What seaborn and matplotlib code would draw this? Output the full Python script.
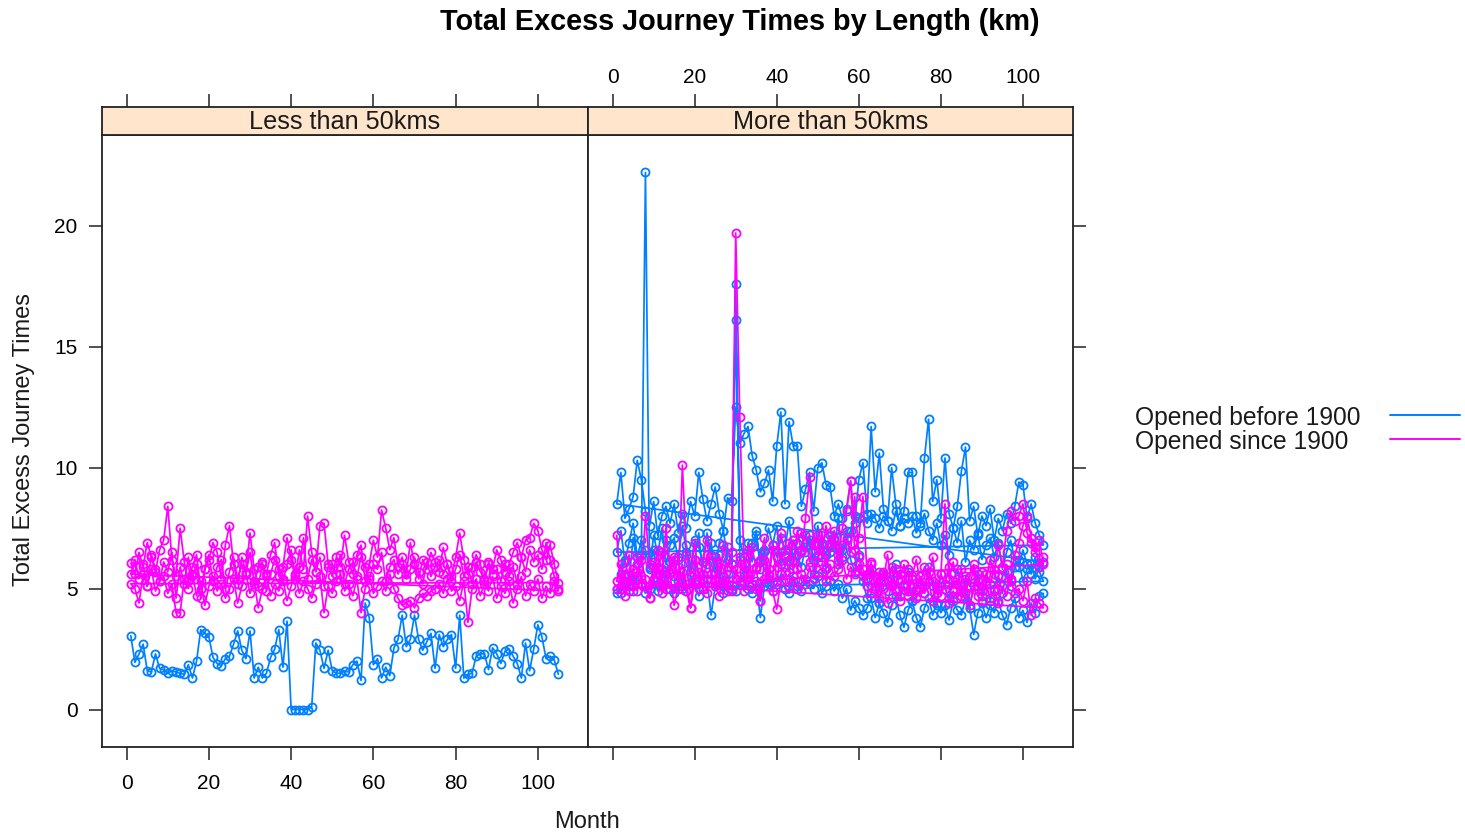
import matplotlib
matplotlib.use("Agg")
import matplotlib.pyplot as plt
from matplotlib.lines import Line2D
import pandas as pd
import seaborn as sns

sns.set_theme(style="white")
plt.rcParams["font.family"] = ["Liberation Sans", "DejaVu Sans"]
plt.rcParams["text.color"] = "black"

# ---------------------------------------------------------------- data
months = list(range(1, 106))
panels = ["Less than 50kms", "More than 50kms"]
groups = ["Opened before 1900", "Opened since 1900"]
group_colors = ["#0080ff", "#ff00ff"]

# Routes shorter than 50 km, opened before 1900
short_before_1 = [
    3.05, 1.95, 2.3, 2.7, 1.6, 1.55, 2.3, 1.7, 1.65, 1.5, 1.6, 1.55, 1.5, 1.45, 1.85,
    1.3, 2.0, 3.3, 3.15, 3.0, 2.15, 1.9, 1.8, 2.1, 2.2, 2.7, 3.25, 2.45, 2.1, 3.25,
    1.3, 1.75, 1.3, 1.5, 2.15, 2.5, 3.3, 1.75, 3.65, 0.0, 0.0, 0.0, 0.0, 0.0, 0.1,
    2.75, 2.45, 1.7, 2.45, 1.6, 1.5, 1.5, 1.6, 1.55, 1.85, 2.0, 1.2, 4.4, 3.8, 1.85,
    2.1, 1.3, 1.75, 1.4, 2.55, 2.9, 3.9, 2.6, 2.9, 3.9, 2.9, 2.45, 2.8, 3.15, 1.7,
    3.1, 2.6, 2.9, 3.1, 1.7, 3.9, 1.3, 1.45, 1.5, 2.2, 2.3, 2.3, 1.65, 2.55, 2.3,
    1.9, 2.4, 2.5, 2.2, 1.9, 1.3, 2.75, 1.6, 2.5, 3.5, 3.0, 2.1, 2.2, 2.05, 1.45,
]

# Routes shorter than 50 km, opened since 1900
short_since_1 = [
    6.05, 5.6, 6.5, 5.9, 6.9, 6.3, 5.7, 6.6, 7.0, 8.4, 6.2, 5.5, 7.5, 6.1, 5.3,
    5.9, 6.4, 5.0, 5.8, 6.2, 6.9, 6.5, 5.4, 6.8, 7.6, 6.0, 5.2, 6.3, 5.7, 7.3,
    5.8, 5.1, 6.0, 5.6, 6.4, 6.9, 5.5, 5.9, 7.1, 6.2, 5.4, 6.6, 5.8, 8.0, 6.5,
    5.7, 7.6, 7.7, 6.0, 5.5, 6.3, 5.9, 7.2, 6.1, 5.6, 6.4, 6.8, 5.3, 6.0, 7.0,
    6.3, 8.25, 7.5, 6.6, 7.1, 5.9, 6.3, 5.6, 6.9, 6.0, 5.4, 6.2, 5.8, 6.5, 6.1,
    5.7, 6.7, 6.0, 5.5, 6.3, 7.3, 6.2, 5.6, 5.9, 6.4, 6.0, 5.3, 6.1, 5.8, 6.6,
    6.2, 5.7, 6.0, 6.5, 6.9, 6.3, 7.0, 7.1, 7.7, 7.4, 6.6, 6.2, 6.8, 6.0, 5.25,
]
short_since_2 = [
    5.2, 5.0, 4.4, 5.6, 5.1, 5.8, 4.9, 5.3, 5.5, 4.8, 5.2, 4.0, 4.0, 5.4, 5.0,
    5.6, 4.7, 5.3, 4.3, 5.1, 5.5, 4.9, 5.2, 4.6, 5.0, 5.4, 4.4, 5.1, 5.6, 4.8,
    5.3, 4.2, 5.0, 5.5, 4.7, 5.2, 4.9, 5.4, 4.5, 5.1, 5.6, 4.8, 5.3, 5.0, 4.6,
    5.2, 5.5, 4.0, 5.1, 4.8, 5.3, 5.6, 4.9, 5.2, 4.7, 5.4, 4.0, 5.0, 5.5, 4.8,
    5.1, 5.3, 4.9, 5.6, 5.0, 4.6, 4.3, 4.4, 4.5, 4.2, 4.6, 4.8, 4.7, 4.9, 5.0,
    5.2, 4.8, 5.4, 4.9, 5.1, 4.5, 5.3, 3.6, 5.0, 5.4, 4.7, 5.2, 4.9, 5.5, 4.6,
    5.1, 4.8, 5.3, 4.4, 5.0, 5.5, 4.7, 5.2, 4.9, 5.4, 4.6, 5.1, 4.8, 5.3, 4.9,
]
short_since_3 = [
    5.6, 6.2, 5.4, 6.0, 5.1, 6.4, 5.8, 5.3, 6.1, 5.7, 6.5, 4.6, 5.9, 5.2, 6.3,
    5.5, 6.0, 4.6, 5.8, 6.4, 5.3, 5.9, 6.2, 5.0, 5.7, 6.3, 5.4, 6.0, 5.6, 6.5,
    5.2, 5.9, 6.1, 4.9, 5.6, 6.2, 5.8, 5.3, 6.0, 6.6, 5.5, 5.9, 7.1, 5.4, 6.2,
    5.7, 6.3, 5.1, 5.9, 6.0, 5.6, 6.4, 5.2, 5.8, 6.1, 5.5, 6.3, 5.9, 5.4, 6.0,
    5.8, 6.5, 5.3, 5.9, 6.2, 5.6, 6.0, 5.4, 5.8, 6.3, 5.7, 5.2, 6.1, 5.5, 5.9,
    6.2, 5.6, 6.0, 5.3, 5.8, 6.4, 5.5, 5.9, 5.2, 6.1, 5.7, 5.4, 6.0, 5.6, 5.8,
    5.3, 6.0, 5.5, 5.9, 5.2, 6.3, 5.7, 6.6, 6.1, 6.4, 5.8, 6.9, 6.2, 5.5, 5.0,
]

# Routes longer than 50 km, opened before 1900
long_before_1 = [
    4.8, 5.6, 6.2, 5.3, 7.1, 6.0, 6.4, 22.2, 5.9, 6.6, 5.2, 5.8, 7.0, 6.1, 5.5,
    6.3, 5.0, 6.8, 5.7, 6.2, 7.3, 5.4, 6.0, 6.9, 5.6, 6.4, 5.1, 6.7, 6.0, 17.6,
    6.2, 5.5, 6.9, 6.1, 7.4, 5.8, 6.5, 5.2, 6.8, 7.6, 6.0, 6.3, 5.7, 7.0, 6.4,
    5.9, 6.7, 7.2, 5.6, 6.3, 6.9, 5.8, 6.5, 7.1, 6.0, 6.6, 7.4, 6.2, 5.7, 6.4,
    5.3, 4.6, 5.8, 5.1, 4.4, 5.6, 4.9, 5.4, 6.0, 4.7, 5.2, 5.7, 4.5, 5.0, 5.5,
    4.8, 5.9, 5.1, 4.3, 5.6, 5.0, 4.6, 5.3, 5.8, 4.9, 5.4, 4.2, 5.1, 5.6, 4.7,
    5.2, 4.5, 5.0, 5.5, 4.8, 5.7, 5.1, 5.9, 6.2, 5.3, 5.8, 6.0, 5.4, 5.9, 6.1,
]
long_before_2 = [
    8.5, 9.8, 7.9, 8.3, 8.8, 10.3, 9.5, 8.2, 7.6, 8.6, 7.2, 8.0, 8.4, 7.7, 8.5,
    7.3, 8.1, 7.5, 8.6, 8.0, 9.8, 8.7, 7.8, 8.5, 9.2, 8.1, 7.4, 8.75, 8.6, 12.5,
    11.0, 11.4, 11.7, 10.5, 9.9, 9.0, 9.35, 9.9, 8.6, 10.9, 12.3, 8.5, 11.9, 10.9, 10.9,
    8.4, 9.1, 9.8, 8.2, 10.0, 10.2, 9.3, 9.2, 8.0, 8.5, 7.9, 8.3, 9.45, 7.7, 9.5,
    10.2, 8.1, 11.7, 9.0, 10.6, 8.3, 7.8, 10.0, 8.5, 7.6, 8.2, 9.8, 9.8, 8.0, 7.7,
    10.4, 12.0, 8.6, 9.5, 7.9, 10.4, 8.1, 7.5, 8.4, 9.85, 10.85, 7.8, 8.4, 7.2, 8.0,
    7.6, 8.3, 7.0, 7.9, 7.4, 8.1, 7.7, 8.4, 9.4, 9.3, 7.9, 8.5, 7.7, 7.2, 6.8,
]
long_before_3 = [
    6.5, 7.4, 6.1, 6.9, 7.7, 6.3, 7.0, 6.6, 5.8, 7.2, 6.4, 7.5, 6.0, 6.8, 7.1,
    6.2, 7.6, 6.5, 5.9, 7.0, 6.7, 6.1, 7.3, 6.4, 5.7, 6.9, 7.4, 6.2, 6.0, 16.1,
    7.0, 6.3, 5.6, 6.9, 7.2, 6.1, 6.6, 7.5, 6.8, 6.3, 7.1, 6.6, 7.8, 6.2, 6.9,
    7.3, 6.5, 7.0, 6.2, 7.6, 6.8, 6.4, 7.2, 6.7, 7.9, 6.3, 7.0, 7.4, 8.0, 7.9,
    8.0, 7.7, 8.1, 7.9, 7.5, 8.0, 7.8, 7.4, 8.2, 7.6, 7.9, 7.7, 8.0, 7.3, 7.6,
    8.1, 7.4, 7.0, 7.7, 6.8, 7.2, 6.4, 7.5, 6.9, 7.8, 6.1, 7.0, 6.6, 7.3, 6.2,
    6.8, 7.1, 6.3, 6.9, 5.8, 6.5, 7.0, 6.2, 5.9, 6.6, 6.0, 5.6, 6.3, 5.7, 5.3,
]
long_before_4 = [
    5.0, 4.8, 5.3, 5.1, 4.9, 5.5, 5.2, 4.8, 5.0, 5.4, 4.9, 5.1, 5.6, 5.0, 4.8,
    5.3, 5.1, 4.9, 5.5, 5.2, 4.7, 5.0, 5.4, 3.9, 5.1, 5.3, 4.8, 5.6, 5.0, 4.9,
    5.2, 5.5, 5.0, 4.8, 5.3, 3.8, 5.1, 5.4, 4.9, 5.2, 5.6, 5.0, 4.8, 5.3, 5.1,
    4.9, 5.4, 5.2, 5.0, 5.5, 4.8, 5.1, 5.3, 4.9, 5.2, 4.6, 5.0, 4.1, 4.5, 4.2,
    3.9, 4.2, 4.6, 3.8, 4.4, 4.0, 3.6, 4.3, 4.7, 3.9, 3.4, 4.1, 4.5, 3.8, 3.4,
    4.2, 4.6, 3.9, 4.4, 4.0, 4.3, 3.7, 4.5, 4.1, 3.9, 4.6, 4.2, 3.1, 4.0, 4.4,
    3.8, 4.3, 4.0, 4.5, 3.9, 3.5, 4.2, 4.6, 3.8, 4.1, 3.6, 4.4, 4.0, 4.7, 4.8,
]

# Routes longer than 50 km, opened since 1900
long_since_1 = [
    7.2, 5.0, 5.6, 4.9, 5.8, 6.3, 5.2, 8.0, 6.0, 5.4, 6.6, 5.1, 7.5, 5.7, 6.2,
    5.0, 10.1, 6.4, 5.5, 6.9, 5.3, 6.1, 7.0, 5.6, 6.3, 5.2, 6.8, 5.9, 6.5, 19.7,
    12.1, 6.0, 5.4, 6.7, 5.8, 6.2, 7.1, 5.5, 6.6, 5.9, 7.3, 6.4, 6.9, 5.8, 7.4,
    6.5, 7.9, 9.6, 6.8, 7.2, 6.3, 7.6, 6.9, 7.0, 6.4, 7.5, 8.2, 9.45, 6.6, 7.1,
    8.8, 5.6, 6.1, 5.0, 5.7, 5.3, 6.4, 5.1, 5.8, 5.4, 6.0, 4.9, 5.5, 6.2, 5.2,
    5.9, 5.3, 6.3, 5.0, 5.6, 8.5, 5.4, 6.1, 5.2, 5.8, 4.8, 5.5, 6.0, 5.1, 5.7,
    5.3, 6.2, 5.6, 6.8, 5.9, 7.4, 8.2, 7.8, 8.0, 8.5, 7.3, 6.9, 6.5, 7.0, 6.0,
]
long_since_2 = [
    5.0, 5.4, 4.7, 5.2, 5.8, 4.9, 5.5, 5.1, 4.6, 5.3, 5.9, 4.8, 5.2, 5.6, 4.3,
    5.1, 5.7, 4.9, 4.2, 5.3, 5.0, 5.6, 4.8, 5.4, 5.1, 4.7, 5.5, 5.2, 4.9, 5.8,
    5.3, 4.9, 5.6, 5.2, 5.0, 4.5, 5.4, 5.8, 4.9, 4.15, 5.3, 5.7, 5.1, 5.5, 5.0,
    5.6, 5.2, 5.9, 5.4, 6.1, 5.7, 5.3, 6.0, 5.5, 5.8, 6.2, 5.4, 5.9, 5.6, 6.0,
    5.5, 5.1, 4.8, 5.3, 4.6, 5.0, 4.4, 5.2, 4.9, 4.5, 5.1, 4.7, 5.4, 4.6, 5.0,
    4.8, 5.3, 4.5, 5.0, 4.7, 5.2, 4.4, 4.9, 4.6, 5.1, 4.8, 4.3, 5.0, 4.7, 4.5,
    5.2, 4.6, 4.9, 4.4, 5.1, 4.7, 5.4, 4.8, 5.0, 4.5, 5.3, 3.9, 4.6, 4.4, 4.2,
]
long_since_3 = [
    5.3, 6.0, 5.5, 6.4, 5.1, 5.7, 6.2, 5.4, 4.6, 6.1, 5.6, 6.5, 5.0, 5.8, 6.3,
    5.5, 6.0, 5.2, 4.2, 6.2, 5.7, 5.0, 6.4, 5.6, 5.3, 6.1, 5.8, 4.9, 6.0, 5.4,
    6.3, 5.7, 6.6, 5.2, 5.9, 4.5, 6.2, 5.6, 6.8, 5.3, 6.5, 5.9, 6.2, 7.0, 5.8,
    6.6, 7.2, 6.1, 6.9, 6.4, 7.3, 5.9, 6.7, 7.4, 6.2, 6.8, 7.1, 6.5, 8.8, 6.3,
    5.8, 5.4, 6.0, 5.5, 5.1, 5.7, 5.3, 5.9, 5.0, 5.6, 5.2, 5.8, 5.4, 4.9, 5.5,
    5.1, 5.7, 5.3, 4.8, 5.6, 5.2, 5.9, 5.0, 5.4, 4.7, 5.5, 5.1, 5.8, 5.3, 4.9,
    5.6, 5.2, 5.8, 5.0, 5.5, 6.0, 5.3, 6.4, 6.9, 7.6, 8.0, 7.1, 6.7, 5.9, 6.3,
]

route_table = {
    (panels[0], groups[0]): [short_before_1],
    (panels[0], groups[1]): [short_since_1, short_since_2, short_since_3],
    (panels[1], groups[0]): [long_before_1, long_before_2, long_before_3, long_before_4],
    (panels[1], groups[1]): [long_since_1, long_since_2, long_since_3],
}

records = []
for (panel, group), series in route_table.items():
    for route_id, values in enumerate(series):
        assert len(values) == len(months)
        for m, v in zip(months, values):
            records.append({"panel": panel, "group": group, "route": route_id,
                            "Month": m, "value": v})
df = pd.DataFrame(records)

# ---------------------------------------------------------------- layout
W, H = 1465, 832
fig = plt.figure(figsize=(W / 100, H / 100), dpi=100)


def box(x0, y0, x1, y1):
    """Pixel box (top-left origin) -> figure fraction rect."""
    return [x0 / W, 1 - y1 / H, (x1 - x0) / W, (y1 - y0) / H]


panel_x = [(102, 588), (588, 1073)]
plot_top, plot_bottom, strip_top = 135, 747, 107
xlim = (-6.0, 112.2)
ylim = (-1.55, 23.75)
xticks = [0, 20, 40, 60, 80, 100]
yticks = [0, 5, 10, 15, 20]
frame_color = "#222222"
tick_kw = dict(direction="out", length=9.5, width=1.1, color=frame_color,
               labelsize=15, labelcolor="black")

for i, panel in enumerate(panels):
    x0, x1 = panel_x[i]
    ax = fig.add_axes(box(x0, plot_top, x1, plot_bottom))
    sax = fig.add_axes(box(x0, strip_top, x1, plot_top))

    for group, color in zip(groups, group_colors):
        sub = df[(df["panel"] == panel) & (df["group"] == group)]
        sns.lineplot(data=sub, x="Month", y="value", sort=False, estimator=None,
                     color=color, linewidth=1.25, marker="o", markersize=5.8,
                     markerfacecolor="none", markeredgecolor=color,
                     markeredgewidth=1.3, legend=False, ax=ax)

    ax.set_xlim(*xlim)
    ax.set_ylim(*ylim)
    ax.set_xlabel("")
    ax.set_ylabel("")
    ax.set_xticks(xticks)
    ax.set_yticks(yticks)
    ax.set_facecolor("white")
    ax.grid(False)
    for sp in ax.spines.values():
        sp.set_color(frame_color)
        sp.set_linewidth(1.3)

    ax.tick_params(axis="x", pad=10, **tick_kw)
    ax.tick_params(axis="y", pad=8, **tick_kw)
    if i == 0:
        ax.tick_params(axis="x", bottom=True, top=False, labelbottom=True)
        ax.tick_params(axis="y", left=True, right=False, labelleft=True)
    else:
        ax.tick_params(axis="x", bottom=True, top=False, labelbottom=False)
        ax.tick_params(axis="y", left=False, right=True, labelleft=False,
                       labelright=False)

    # strip with panel title; top axis ticks live on the strip
    sax.set_facecolor("#ffe5cc")
    sax.set_xlim(*xlim)
    sax.set_ylim(0, 1)
    sax.set_yticks([])
    sax.set_xticks(xticks)
    sax.grid(False)
    for sp in sax.spines.values():
        sp.set_color(frame_color)
        sp.set_linewidth(1.3)
    sax.tick_params(axis="x", bottom=False, top=True, labelbottom=False,
                    labeltop=(i == 1), pad=5, **tick_kw)
    sax.text(0.5, 0.45, panel, transform=sax.transAxes, ha="center",
             va="center", fontsize=18.2, color="#1a1a1a")

# titles and axis labels
fig.text(740 / W, 1 - 22 / H, "Total Excess Journey Times by Length (km)",
         ha="center", va="center", fontsize=20.8, fontweight="bold")
fig.text(587 / W, 1 - 822 / H, "Month", ha="center", va="center", fontsize=17,
         color="#1a1a1a")
fig.text(24 / W, 1 - 440 / H, "Total Excess Journey Times", ha="center",
         va="center", rotation=90, fontsize=17, color="#1a1a1a")

# key: text on the left, line sample on the right
for k, (group, color) in enumerate(zip(groups, group_colors)):
    ty = 418 + 24 * k
    fig.text(1135 / W, 1 - ty / H, group, ha="left", va="center",
             fontsize=17.7, color="#1a1a1a")
    fig.add_artist(Line2D([1390 / W, 1460 / W], [1 - (ty - 3) / H] * 2,
                          transform=fig.transFigure, color=color,
                          linewidth=1.4))

fig.savefig("out.png", dpi=100)
